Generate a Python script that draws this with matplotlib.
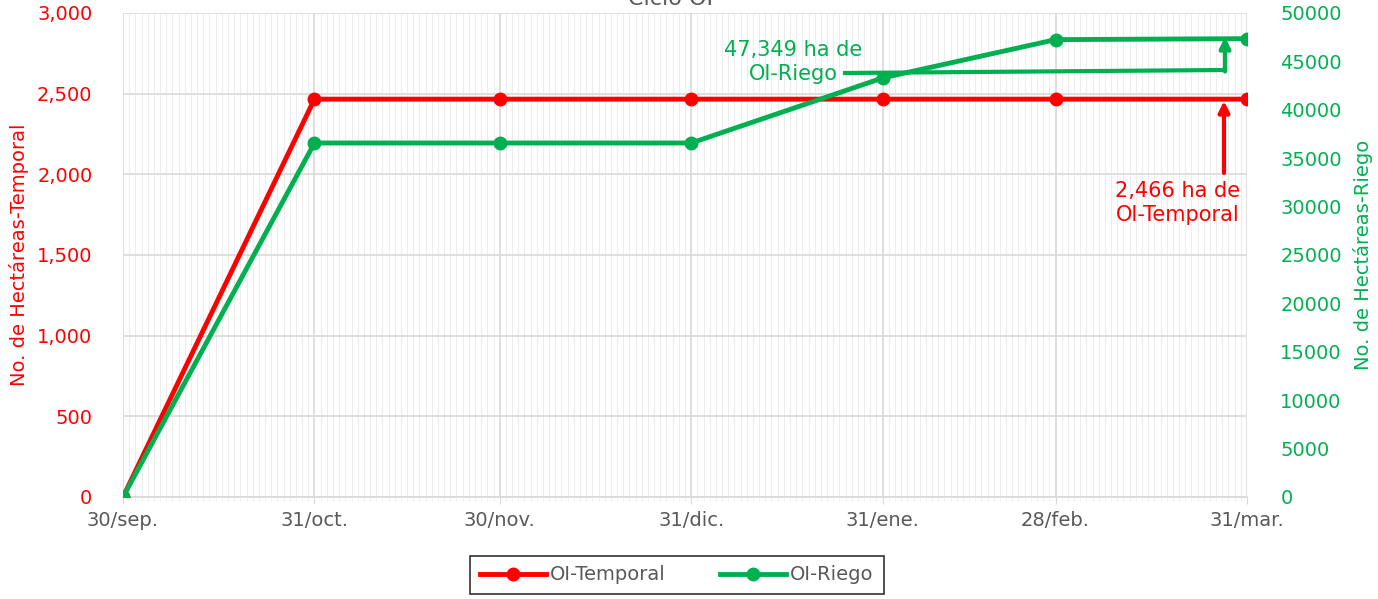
import datetime as dt
import matplotlib
matplotlib.use("Agg")
import matplotlib.pyplot as plt
import matplotlib.dates as mdates
from matplotlib.lines import Line2D
from matplotlib.ticker import FuncFormatter, MultipleLocator, FixedLocator

plt.rcParams['font.family'] = ['DejaVu Sans']

# datos
fechas = [dt.date(2022, 9, 30), dt.date(2022, 10, 31), dt.date(2022, 11, 30),
          dt.date(2022, 12, 31), dt.date(2023, 1, 31), dt.date(2023, 2, 28),
          dt.date(2023, 3, 31)]
etiquetas = ['30/sep.', '31/oct.', '30/nov.', '31/dic.', '31/ene.', '28/feb.', '31/mar.']
temporal = [0, 2466, 2466, 2466, 2466, 2466, 2466]
riego = [0, 36570, 36570, 36570, 43290, 47250, 47349]

ROJO = '#FF0000'
VERDE = '#00B050'
GRIS = '#595959'

W, H = 1378, 599
fig = plt.figure(figsize=(W / 100, H / 100), dpi=100)
ax = fig.add_axes([123 / W, 1 - 497 / H, 1124 / W, 484 / H])
ax2 = ax.twinx()

x = mdates.date2num(fechas)

l1, = ax.plot(x, temporal, color=ROJO, lw=3.5, marker='o', ms=9, zorder=4,
              label='OI-Temporal')
l2, = ax2.plot(x, riego, color=VERDE, lw=3.5, marker='o', ms=9, zorder=4,
               label='OI-Riego')

ax.set_xlim(x[0], x[-1])
ax.set_ylim(0, 3000)
ax2.set_ylim(0, 50000)

# ejes
ax.xaxis.set_major_locator(FixedLocator(x))
ax.set_xticklabels(etiquetas)
ax.xaxis.set_minor_locator(mdates.DayLocator())
ax.yaxis.set_major_locator(MultipleLocator(500))
ax.yaxis.set_major_formatter(FuncFormatter(lambda v, p: f'{v:,.0f}'))
ax2.yaxis.set_major_locator(MultipleLocator(5000))

ax.grid(axis='x', which='minor', color='#EDEDED', lw=0.8)
ax.grid(axis='x', which='major', color='#D9D9D9', lw=1.2)
ax.grid(axis='y', which='major', color='#D9D9D9', lw=1.2)
ax.set_axisbelow(True)

for a in (ax, ax2):
    for s in a.spines.values():
        s.set_visible(False)
ax.spines['bottom'].set_visible(True)
ax.spines['bottom'].set_color('#D9D9D9')
ax.spines['bottom'].set_linewidth(1.2)

ax.tick_params(axis='x', which='major', colors='#D9D9D9', labelcolor=GRIS,
               labelsize=14, length=5, pad=5)
ax.tick_params(axis='x', which='minor', colors='#EDEDED', length=3)
ax.tick_params(axis='y', length=0, labelcolor=ROJO, labelsize=14, pad=22)
ax2.tick_params(axis='y', length=0, labelcolor=VERDE, labelsize=14, pad=24)

ax.set_ylabel('No. de Hectáreas-Temporal', color=ROJO, fontsize=14, labelpad=6)
ax2.set_ylabel('No. de Hectáreas-Riego', color=VERDE, fontsize=14, labelpad=8)

fig.text(670 / W, 1 - 5 / H, 'Ciclo OI', ha='center', va='baseline',
         fontsize=16, color=GRIS)


def px(xp, yp):
    return (xp / W, 1 - yp / H)


# anotación riego
fig.text(*px(793, 62), '47,349 ha de\nOI-Riego', ha='center', va='center',
         color=VERDE, fontsize=15, linespacing=1.2)
fig.add_artist(Line2D([845 / W, 1225 / W], [1 - 73 / H, 1 - 70 / H],
                      color=VERDE, lw=3, transform=fig.transFigure))
ax.annotate('', xy=px(1225, 37), xytext=px(1225, 71.5), xycoords='figure fraction',
            textcoords='figure fraction',
            arrowprops=dict(arrowstyle='-|>', color=VERDE, lw=3,
                            mutation_scale=16, shrinkA=0, shrinkB=0))

# anotación temporal
fig.text(*px(1178, 203), '2,466 ha de\nOI-Temporal', ha='center', va='center',
         color=ROJO, fontsize=15, linespacing=1.2)
ax.annotate('', xy=px(1224, 101), xytext=px(1224, 173), xycoords='figure fraction',
            textcoords='figure fraction',
            arrowprops=dict(arrowstyle='-|>', color=ROJO, lw=3,
                            mutation_scale=16, shrinkA=0, shrinkB=0))

leg = fig.legend(handles=[l1, l2], loc='center', bbox_to_anchor=px(677, 575),
                 ncol=2, fontsize=14, frameon=True, fancybox=False,
                 handlelength=3.4, handletextpad=0.2, columnspacing=2.8,
                 borderpad=0.5)
leg.get_frame().set_edgecolor('black')
leg.get_frame().set_linewidth(1.2)
for t in leg.get_texts():
    t.set_color(GRIS)

fig.savefig('out.png', dpi=100)
